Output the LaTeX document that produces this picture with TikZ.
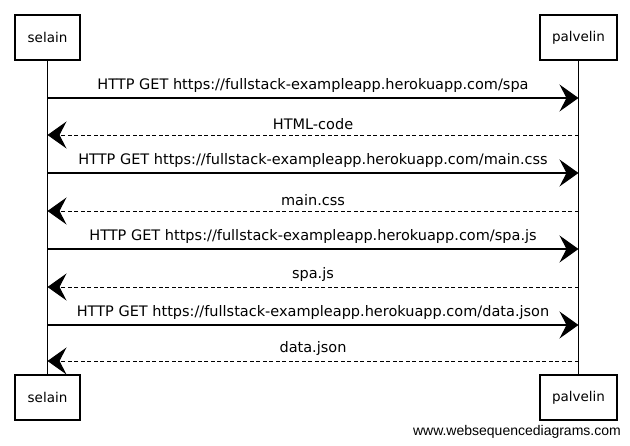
\documentclass[tikz,border=0pt]{standalone}
\usepackage{fontspec}
\setmainfont{DejaVu Sans}
\newfontfamily\wmfont{Liberation Sans}
\usetikzlibrary{arrows.meta}
\begin{document}
\begin{tikzpicture}[x=1pt,y=-1pt,
  actor/.style={draw,line width=1.2pt,minimum width=65pt,minimum height=45pt,inner sep=0pt,font=\fontsize{13.5}{15}\selectfont},
  msg/.style={line width=1.1pt,-{Stealth[length=19pt,width=27pt,inset=7pt]}},
  reply/.style={msg,dashed,line width=0.9pt,dash pattern=on 4pt off 2.5pt},
  lbl/.style={font=\fontsize{14.5}{16}\selectfont,inner sep=0pt,anchor=base}]
\useasboundingbox (0,0) rectangle (630,446);
\node[actor] (st) at (47.5,37.5) {selain};
\node[actor,minimum width=77pt] (pt) at (578.5,37.5) {palvelin};
\node[actor] (sb) at (47.5,397.5) {selain};
\node[actor,minimum width=77pt] (pb) at (578.5,397.5) {palvelin};
\draw[line width=0.6pt] (st.south) -- (sb.north);
\draw[line width=0.6pt] (pt.south) -- (pb.north);
\foreach \i/\y in {1/98,2/135,3/173,4/211,5/249,6/287,7/325,8/361}{
  \coordinate (s\i) at (47.5,\y);
  \coordinate (p\i) at (578.5,\y);
}
\draw[msg] (s1) -- (p1) node[lbl,midway,above=5pt] {HTTP GET https://fullstack-exampleapp.herokuapp.com/spa};
\draw[reply] (p2) -- (s2) node[lbl,midway,above=5pt] {HTML-code};
\draw[msg] (s3) -- (p3) node[lbl,midway,above=5pt] {HTTP GET https://fullstack-exampleapp.herokuapp.com/main.css};
\draw[reply] (p4) -- (s4) node[lbl,midway,above=5pt] {main.css};
\draw[msg] (s5) -- (p5) node[lbl,midway,above=5pt] {HTTP GET https://fullstack-exampleapp.herokuapp.com/spa.js};
\draw[reply] (p6) -- (s6) node[lbl,midway,above=5pt] {spa.js};
\draw[msg] (s7) -- (p7) node[lbl,midway,above=5pt] {HTTP GET https://fullstack-exampleapp.herokuapp.com/data.json};
\draw[reply] (p8) -- (s8) node[lbl,midway,above=5pt] {data.json};
\node[font=\wmfont\fontsize{14}{16}\selectfont,anchor=east,inner sep=0pt] (wm) at (621,432) {www.websequencediagrams.com};
\end{tikzpicture}
\end{document}
